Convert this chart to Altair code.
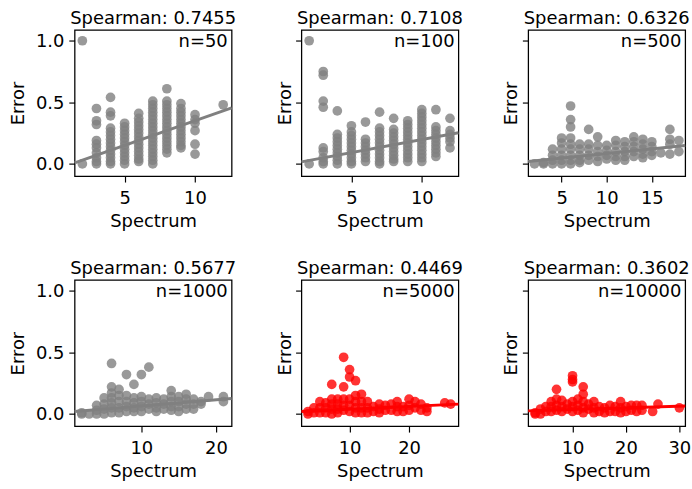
import altair as alt
import pandas as pd

FONT = "DejaVu Sans"
FS = 18.5
W, H = 162, 151

titles = ["Spearman: 0.7455", "Spearman: 0.7108", "Spearman: 0.6326",
          "Spearman: 0.5677", "Spearman: 0.4469", "Spearman: 0.3602"]
n_labels = ["n=50", "n=100", "n=500", "n=1000", "n=5000", "n=10000"]
colors = ["gray", "gray", "gray", "gray", "red", "red"]
x_domains = [[1.45, 12.6], [1.45, 12.6], [1.3, 18.7],
             [1.05, 22.1], [1.9, 28.3], [1.7, 31.1]]
x_ticks = [[5, 10], [5, 10], [5, 10, 15], [10, 20], [10, 20], [10, 20, 30]]
y_ticks = [0.0, 0.5, 1.0]
y_domain = [-0.1, 1.088]

# fitted regression line (value at left and right edge of each panel)
reg_left = [0.008, 0.017, 0.02, 0.02, 0.02, 0.025]
reg_right = [0.455, 0.253, 0.15, 0.125, 0.08, 0.065]

# panel 1 (n=50)
p1_x = [2, 3, 4, 5, 6, 7, 8, 9, 10, 12]
p1_y = [
    [1.0, 0.0],
    [0.45, 0.35, 0.32, 0.19, 0.16, 0.13, 0.09, 0.05, 0.02, 0.0],
    [0.54, 0.42, 0.39, 0.29, 0.26, 0.23, 0.2, 0.17, 0.14, 0.11, 0.08, 0.05, 0.02, 0.0],
    [0.33, 0.3, 0.27, 0.24, 0.21, 0.18, 0.15, 0.12, 0.09, 0.06, 0.03, 0.0],
    [0.41, 0.37, 0.34, 0.31, 0.28, 0.25, 0.22, 0.19, 0.16, 0.13, 0.1, 0.07, 0.04, 0.02],
    [0.51, 0.48, 0.45, 0.42, 0.39, 0.36, 0.33, 0.3, 0.27, 0.24, 0.21, 0.18,
     0.15, 0.12, 0.09, 0.06, 0.03, 0.0],
    [0.61, 0.51, 0.48, 0.45, 0.42, 0.39, 0.36, 0.33, 0.3, 0.27, 0.24, 0.21,
     0.18, 0.15, 0.12, 0.09],
    [0.49, 0.45, 0.42, 0.39, 0.36, 0.33, 0.3, 0.27, 0.24, 0.21, 0.18, 0.15, 0.13],
    [0.40, 0.36, 0.33, 0.27, 0.16, 0.08],
    [0.48],
]
# panel 2 (n=100)
p2_x = [2, 3, 4, 5, 6, 7, 8, 9, 10, 11, 12]
p2_y = [
    [1.0, 0.0],
    [0.75, 0.72, 0.51, 0.46, 0.13, 0.10, 0.05, 0.02, 0.0],
    [0.43, 0.24, 0.21, 0.18, 0.15, 0.12, 0.09, 0.06, 0.03, 0.0],
    [0.31, 0.26, 0.23, 0.2, 0.17, 0.14, 0.11, 0.08, 0.05, 0.02, 0.0],
    [0.34, 0.2, 0.17, 0.14, 0.11, 0.08, 0.05, 0.02],
    [0.42, 0.29, 0.26, 0.23, 0.2, 0.17, 0.14, 0.11, 0.08, 0.05, 0.02, 0.0],
    [0.37, 0.28, 0.25, 0.22, 0.19, 0.16, 0.13, 0.1, 0.07, 0.04, 0.02],
    [0.35, 0.32, 0.29, 0.26, 0.23, 0.2, 0.17, 0.14, 0.11, 0.08, 0.05, 0.02],
    [0.44, 0.41, 0.38, 0.35, 0.32, 0.29, 0.26, 0.23, 0.2, 0.17, 0.14, 0.11,
     0.08, 0.05, 0.02],
    [0.44, 0.3, 0.27, 0.24, 0.21, 0.18, 0.15, 0.12, 0.09, 0.06],
    [0.37, 0.27, 0.24, 0.21, 0.18, 0.13],
]
# panel 3 (n=500)
p3_x = [2, 3, 4, 5, 6, 7, 8, 9, 10, 11, 12, 13, 14, 15, 16, 17, 18]
p3_y = [
    [0.0],
    [0.0, 0.01],
    [0.12, 0.07, 0.03, 0.0],
    [0.21, 0.17, 0.12, 0.07, 0.03, 0.0],
    [0.47, 0.36, 0.30, 0.21, 0.16, 0.12, 0.07, 0.03, 0.0],
    [0.16, 0.12, 0.07, 0.03, 0.01],
    [0.28, 0.16, 0.12, 0.07, 0.03],
    [0.22, 0.15, 0.1, 0.06, 0.02],
    [0.15, 0.11, 0.07, 0.04],
    [0.19, 0.15, 0.1, 0.06, 0.03],
    [0.18, 0.14, 0.1, 0.06, 0.03],
    [0.22, 0.18, 0.14, 0.1, 0.06],
    [0.2, 0.16, 0.12, 0.08, 0.05],
    [0.18, 0.14, 0.1, 0.07],
    [0.09],
    [0.28, 0.2, 0.16, 0.08],
    [0.19, 0.1],
]
# panel 4 (n=1000)
p4_x = [2, 3, 4, 5, 6, 7, 8, 9, 10, 11, 12, 13, 14, 15, 16, 17, 18, 19, 21]
p4_y = [
    [0.0, 0.01],
    [0.0],
    [0.07, 0.03, 0.0],
    [0.13, 0.08, 0.04, 0.0],
    [0.41, 0.22, 0.17, 0.13, 0.09, 0.05, 0.01],
    [0.2, 0.15, 0.1, 0.05, 0.01],
    [0.32, 0.15, 0.1, 0.06, 0.02],
    [0.24, 0.13, 0.09, 0.05, 0.02],
    [0.32, 0.14, 0.1, 0.06, 0.02],
    [0.38, 0.12, 0.08, 0.04],
    [0.13, 0.09, 0.05, 0.02],
    [0.12, 0.08, 0.04],
    [0.19, 0.14, 0.1, 0.06, 0.03],
    [0.14, 0.1, 0.06, 0.02],
    [0.16, 0.12, 0.08, 0.04],
    [0.12, 0.08, 0.04],
    [0.1, 0.08],
    [0.14],
    [0.14, 0.1],
]
# panel 5 (n=5000)
p5_x = [3, 4, 5, 6, 7, 8, 9, 10, 11, 12, 13, 14, 15, 16, 17, 18, 19, 20,
        21, 22, 23, 26, 27]
p5_y = [
    [0.02, 0.0],
    [0.05, 0.01],
    [0.1, 0.05, 0.01],
    [0.09, 0.05, 0.01],
    [0.24, 0.12, 0.08, 0.04, 0.0],
    [0.12, 0.08, 0.04, 0.01],
    [0.46, 0.22, 0.12, 0.07, 0.03],
    [0.36, 0.3, 0.12, 0.07, 0.02],
    [0.27, 0.15, 0.1, 0.05, 0.01],
    [0.16, 0.1, 0.05, 0.01],
    [0.1, 0.05, 0.01],
    [0.06, 0.02],
    [0.08, 0.04, 0.01],
    [0.07, 0.03],
    [0.08, 0.03],
    [0.1, 0.06, 0.02],
    [0.06, 0.02],
    [0.12, 0.07, 0.03],
    [0.1, 0.05],
    [0.08, 0.03],
    [0.05, 0.02],
    [0.09],
    [0.08],
]
# panel 6 (n=10000)
p6_x = [3, 4, 5, 6, 7, 8, 9, 10, 11, 12, 13, 14, 15, 16, 17, 18, 19, 20,
        21, 22, 23, 25, 26, 30]
p6_y = [
    [0.01, 0.0],
    [0.04, 0.0],
    [0.06, 0.02],
    [0.1, 0.06, 0.02],
    [0.2, 0.12, 0.07, 0.03],
    [0.11, 0.06, 0.02],
    [0.08, 0.04],
    [0.31, 0.28, 0.26, 0.1, 0.06, 0.02],
    [0.12, 0.07, 0.03],
    [0.22, 0.16, 0.1, 0.05, 0.01],
    [0.08, 0.04],
    [0.1, 0.05, 0.01],
    [0.06, 0.02],
    [0.05, 0.01],
    [0.07, 0.02],
    [0.06, 0.02],
    [0.1, 0.05, 0.01],
    [0.06, 0.02],
    [0.07, 0.03],
    [0.07, 0.02],
    [0.07, 0.03],
    [0.02],
    [0.08],
    [0.05],
]

panels_x = [p1_x, p2_x, p3_x, p4_x, p5_x, p6_x]
panels_y = [p1_y, p2_y, p3_y, p4_y, p5_y, p6_y]


def make_panel(i):
    rows = []
    for xv, ys in zip(panels_x[i], panels_y[i]):
        for yv in ys:
            rows.append({"x": xv, "y": yv})
    df = pd.DataFrame(rows)
    reg = pd.DataFrame({"x": x_domains[i], "y": [reg_left[i], reg_right[i]]})
    col = colors[i]
    show_labels = i in (0, 3)
    xs = alt.Scale(domain=x_domains[i], nice=False, zero=False)
    ys = alt.Scale(domain=y_domain, nice=False, zero=False)
    xe = alt.X("x:Q", scale=xs,
               axis=alt.Axis(title="Spectrum", values=x_ticks[i], format="d",
                             labelPadding=7))
    if show_labels:
        yax = alt.Axis(title="Error", values=y_ticks, format=".1f", titlePadding=8)
    else:
        yax = alt.Axis(title="Error", values=y_ticks, labels=False, titlePadding=1)
    ye = alt.Y("y:Q", scale=ys, axis=yax)
    pts = alt.Chart(df).mark_circle(size=100, opacity=0.8, color=col).encode(x=xe, y=ye)
    line = alt.Chart(reg).mark_line(color=col, strokeWidth=3).encode(x=xe, y=ye)
    txt = alt.Chart(pd.DataFrame({"label": [n_labels[i]]})).mark_text(
        align="right", baseline="middle", fontSize=FS, font=FONT, color="black"
    ).encode(x=alt.value(W - 4), y=alt.value(12), text="label:N")
    return alt.layer(pts, line, txt).properties(
        width=W, height=H,
        title=alt.TitleParams(titles[i], fontSize=FS, font=FONT,
                              fontWeight="normal", color="black", offset=3),
    )


row1 = alt.hconcat(make_panel(0), make_panel(1), make_panel(2), spacing=37)
row2 = alt.hconcat(make_panel(3), make_panel(4), make_panel(5), spacing=37)
chart = alt.vconcat(
    row1, row2, spacing=28, background="white",
    padding={"left": 8, "top": 0, "right": 0, "bottom": 5},
).configure_axis(
    grid=False, domain=False, ticks=True, tickSize=6, tickWidth=1.2,
    tickColor="black", labelColor="black", titleColor="black",
    labelFont=FONT, titleFont=FONT, labelFontSize=FS, titleFontSize=FS,
    titleFontWeight="normal", labelPadding=5, titlePadding=5,
).configure_view(
    stroke="black", strokeWidth=1.3
)

chart.save("out.html", embed_options={"renderer": "svg", "actions": False})
